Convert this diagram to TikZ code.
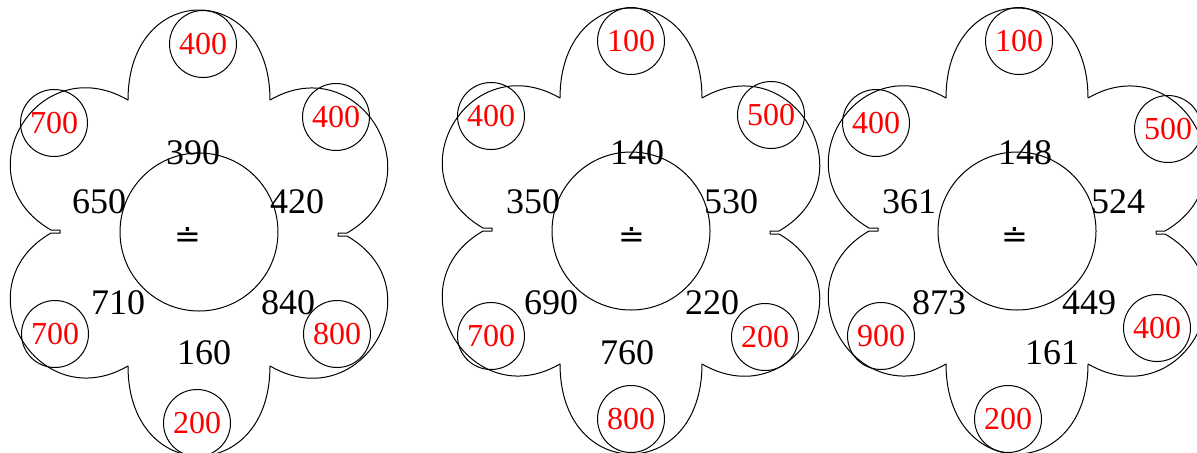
\documentclass[tikz,border=0pt]{standalone}
\usepackage{fontspec}
\setmainfont{Liberation Serif}
\newfontfamily\signfont{DejaVu Sans}
\usepackage{xcolor}
\definecolor{ringred}{rgb}{1, 0, 0}
\tikzstyle{petal} = [
    draw=black,
    line width=0.5pt,
    line join=round
    ]
\tikzstyle{ring} = [
    circle,
    draw=black,
    line width=0.5pt,
    minimum size=33.5pt,
    inner sep=0pt,
    text=ringred,
    font=\fontsize{16}{16}\selectfont
    ]
\tikzstyle{hub} = [
    circle,
    draw=black,
    line width=0.5pt,
    minimum size=79pt,
    inner sep=0pt
    ]
\tikzstyle{sumnum} = [inner sep=0pt, font=\fontsize{18}{18}\selectfont]
\tikzstyle{signmark} = [inner sep=0pt, font=\signfont\fontsize{16}{16}\selectfont]
\newcommand{\flower}[2]{% outline, centred at (#1,#2)
\begin{scope}[shift={(#1,#2)}]
\draw[petal] (-71,133)
    .. controls +(90:120) and +(90:120) .. (71,133)
    .. controls +(30:105) and +(30:105) .. (148,0)
    -- ++(-9,0) -- ++(0,-3) -- ++(9,0)
    .. controls +(-30:105) and +(-30:105) .. (71,-133)
    .. controls +(-90:120) and +(-90:120) .. (-71,-133)
    .. controls +(-150:105) and +(-150:105) .. (-148,0)
    -- ++(9,0) -- ++(0,3) -- ++(-9,0)
    .. controls +(150:105) and +(150:105) .. (-71,133) -- cycle;
\end{scope}}

\begin{document}
\begin{tikzpicture}[x=0.5pt, y=0.5pt]
\useasboundingbox (0,0) rectangle (1197,452);
\clip (0,0) rectangle (1197,452);

% first flower
\flower{199}{219}
\node[hub] (hubA) at (199,220) {};
\node[signmark] (signA) at (188,215) {≐};
\node[sumnum] (nA) at (193,299) {390};
\node[sumnum] (nwA) at (99,250) {650};
\node[sumnum] (neA) at (297,250) {420};
\node[sumnum] (swA) at (118,149) {710};
\node[sumnum] (seA) at (288,149) {840};
\node[sumnum] (sA) at (204,99) {160};
\node[ring] (topA) at (203,408) {400};
\node[ring] (ulA) at (54,329) {700};
\node[ring] (urA) at (336,335) {400};
\node[ring] (llA) at (55,118) {700};
\node[ring] (lrA) at (337,118) {800};
\node[ring] (botA) at (197,29) {200};

% second flower
\flower{631}{221}
\node[hub] (hubB) at (631,221) {};
\node[signmark] (signB) at (632,215) {≐};
\node[sumnum] (nB) at (637,299) {140};
\node[sumnum] (nwB) at (533,250) {350};
\node[sumnum] (neB) at (731,250) {530};
\node[sumnum] (swB) at (551,149) {690};
\node[sumnum] (seB) at (712,149) {220};
\node[sumnum] (sB) at (627,99) {760};
\node[ring] (topB) at (631,411) {100};
\node[ring] (ulB) at (491,336) {400};
\node[ring] (urB) at (771,337) {500};
\node[ring] (llB) at (491,116) {700};
\node[ring] (lrB) at (765,115) {200};
\node[ring] (botB) at (631,33) {800};

% third flower
\flower{1017}{221}
\node[hub] (hubC) at (1017,221) {};
\node[signmark] (signC) at (1015,215) {≐};
\node[sumnum] (nC) at (1025,299) {148};
\node[sumnum] (nwC) at (909,250) {361};
\node[sumnum] (neC) at (1118,250) {524};
\node[sumnum] (swC) at (939,149) {873};
\node[sumnum] (seC) at (1089,149) {449};
\node[sumnum] (sC) at (1052,99) {161};
\node[ring] (topC) at (1019,411) {100};
\node[ring] (ulC) at (876,329) {400};
\node[ring] (urC) at (1168,323) {500};
\node[ring] (llC) at (881,116) {900};
\node[ring] (lrC) at (1157,124) {400};
\node[ring] (botC) at (1008,33) {200};
\end{tikzpicture}
\end{document}
